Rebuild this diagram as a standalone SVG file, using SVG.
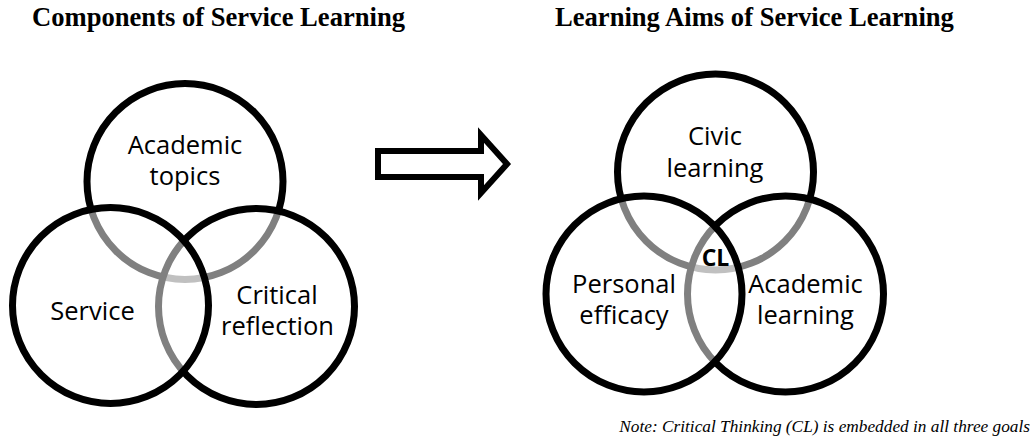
<svg xmlns="http://www.w3.org/2000/svg" width="1036" height="447" viewBox="0 0 1036 447">
  <style>
    .title { font-family: "Liberation Serif", "Times New Roman", serif; font-weight: bold; font-size: 26.6px; fill: #000; }
    .note { font-family: "Liberation Serif", "Times New Roman", serif; font-style: italic; font-size: 17.3px; fill: #000; }
    .ring { fill: #fff; fill-opacity: 0.5; stroke: #000; stroke-width: 7; }
    .label { font-family: "Open Sans", "Liberation Sans", sans-serif; font-size: 25.5px; fill: #000; text-anchor: middle; }
    .core { font-family: "Open Sans", "Liberation Sans", sans-serif; font-size: 23px; font-weight: bold; fill: #000; text-anchor: middle; }
    .block-arrow { fill: #fff; stroke: #000; stroke-width: 6; stroke-linejoin: miter; }
  </style>
  <rect width="1036" height="447" fill="#fff"/>

  <!-- headings -->
  <text id="title-components" class="title" x="32" y="26">Components of Service Learning</text>
  <text id="title-aims" class="title" x="555" y="26">Learning Aims of Service Learning</text>

  <!-- left Venn: components (half-white fills fade the rings underneath) -->
  <g id="node-academic-topics">
    <circle class="ring" cx="185" cy="181.5" r="98"/>
    <text class="label" x="185" y="154">Academic</text>
    <text class="label" x="185" y="185">topics</text>
  </g>
  <g id="node-critical-reflection">
    <circle class="ring" cx="256.5" cy="306.5" r="98"/>
    <text class="label" x="277" y="304">Critical</text>
    <text class="label" x="277.5" y="335">reflection</text>
  </g>
  <g id="node-service">
    <circle class="ring" cx="110.5" cy="305.5" r="98"/>
    <text class="label" x="92.5" y="320">Service</text>
  </g>

  <!-- transition arrow -->
  <g id="connectors">
    <polygon class="block-arrow" points="378,151 481,151 481,135 507,164 481,193 481,177 378,177"/>
  </g>

  <!-- right Venn: learning aims -->
  <g id="node-civic-learning">
    <circle class="ring" cx="715.5" cy="172" r="98"/>
    <text class="label" x="715" y="145">Civic</text>
    <text class="label" x="715" y="177">learning</text>
  </g>
  <g id="node-academic-learning">
    <circle class="ring" cx="785.5" cy="294" r="98"/>
    <text class="label" x="805.5" y="292.5">Academic</text>
    <text class="label" x="805.5" y="323.5">learning</text>
  </g>
  <g id="node-personal-efficacy">
    <circle class="ring" cx="644" cy="294" r="98"/>
    <text class="label" x="624" y="292.5">Personal</text>
    <text class="label" x="624" y="323.5">efficacy</text>
  </g>
  <g id="node-cl">
    <text class="core" x="715.5" y="265.5">CL</text>
  </g>

  <text id="note" class="note" x="1030" y="432" text-anchor="end">Note: Critical Thinking (CL) is embedded in all three goals</text>
</svg>
